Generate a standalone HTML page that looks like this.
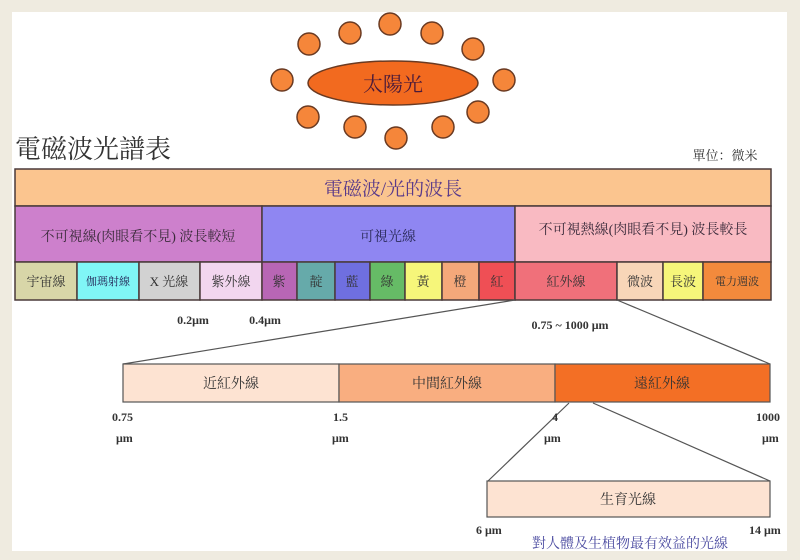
<!DOCTYPE html>
<html><head><meta charset="utf-8"><style>
html,body{margin:0;padding:0;background:#efebe0;}
svg{display:block;}
text{font-family:"Liberation Serif","Noto Serif CJK SC","Noto Sans CJK TC",serif;}
.c{font-family:"Liberation Serif","Noto Sans CJK TC",serif;}
</style></head><body>
<svg width="800" height="560" viewBox="0 0 800 560" xmlns="http://www.w3.org/2000/svg">
<rect x="0" y="0" width="800" height="560" fill="#efebe0"/>
<rect x="12" y="12" width="775" height="539" fill="#ffffff"/>
<!-- sun -->
<g fill="#f5863a" stroke="#6a3a22" stroke-width="1.5">
<circle cx="282" cy="80" r="11"/><circle cx="309" cy="44" r="11"/><circle cx="350" cy="33" r="11"/>
<circle cx="390" cy="24" r="11"/><circle cx="432" cy="33" r="11"/><circle cx="473" cy="49" r="11"/>
<circle cx="504" cy="80" r="11"/><circle cx="478" cy="112" r="11"/><circle cx="443" cy="127" r="11"/>
<circle cx="396" cy="138" r="11"/><circle cx="355" cy="127" r="11"/><circle cx="308" cy="117" r="11"/>
<ellipse cx="393" cy="83" rx="85" ry="22" fill="#f26a1f"/>
</g>
<text x="393" y="91" font-size="20" text-anchor="middle" fill="#4a1a3a">太陽光</text>
<text x="15" y="158" font-size="26" fill="#333">電磁波光譜表</text>
<text x="725" y="160" font-size="13" text-anchor="middle" fill="#333">單位：微米</text>
<!-- top bar -->
<g stroke="#4a3a3a" stroke-width="1.5">
<rect x="15" y="169" width="756" height="37" fill="#fbc58f"/>
<rect x="15" y="206" width="247" height="56" fill="#cd80cc"/>
<rect x="262" y="206" width="253" height="56" fill="#8f86f2"/>
<rect x="515" y="206" width="256" height="56" fill="#f9bac2"/>
<rect x="15" y="262" width="62" height="38" fill="#d8d6a8"/>
<rect x="77" y="262" width="62" height="38" fill="#80f6f6"/>
<rect x="139" y="262" width="61" height="38" fill="#d2d2d2"/>
<rect x="200" y="262" width="62" height="38" fill="#f2d6ef"/>
<rect x="262" y="262" width="35" height="38" fill="#b866b5"/>
<rect x="297" y="262" width="38" height="38" fill="#66aaaa"/>
<rect x="335" y="262" width="35" height="38" fill="#6f6fe0"/>
<rect x="370" y="262" width="35" height="38" fill="#66bb66"/>
<rect x="405" y="262" width="37" height="38" fill="#f6f67a"/>
<rect x="442" y="262" width="37" height="38" fill="#f4a87a"/>
<rect x="479" y="262" width="36" height="38" fill="#ef4f55"/>
<rect x="515" y="262" width="102" height="38" fill="#f0707a"/>
<rect x="617" y="262" width="46" height="38" fill="#f8d6b8"/>
<rect x="663" y="262" width="40" height="38" fill="#f6f67a"/>
<rect x="703" y="262" width="68" height="38" fill="#f38a3c"/>
</g>
<text x="393" y="195" font-size="19" text-anchor="middle" fill="#5a3a8a">電磁波/光的波長</text>
<g font-size="14" text-anchor="middle" fill="#3a2a3a">
<text x="138" y="241">不可視線(肉眼看不見) 波長較短</text>
<text x="388" y="241" fill="#2a2a5a">可視光線</text>
<text x="643" y="234">不可視熱線(肉眼看不見) 波長較長</text>
</g>
<g font-size="13" text-anchor="middle" fill="#333">
<text x="46" y="286">宇宙線</text>
<text x="108" y="285" font-size="11" fill="#225">伽瑪射線</text>
<text x="169" y="286">X 光線</text>
<text x="231" y="286">紫外線</text>
<text x="279" y="286">紫</text>
<text x="316" y="286">靛</text>
<text x="352" y="286">藍</text>
<text x="387" y="286">綠</text>
<text x="423" y="286">黃</text>
<text x="460" y="286">橙</text>
<text x="497" y="286">紅</text>
<text x="566" y="286">紅外線</text>
<text x="640" y="286">微波</text>
<text x="683" y="286">長波</text>
<text x="737" y="285" font-size="11">電力週波</text>
</g>
<g font-size="12" font-weight="bold" fill="#333" text-anchor="middle">
<text x="193" y="324">0.2μm</text>
<text x="265" y="324">0.4μm</text>
<text x="570" y="329">0.75 ~ 1000 μm</text>
</g>
<!-- connectors -->
<g stroke="#555" stroke-width="1.2">
<line x1="515" y1="300" x2="123" y2="364"/>
<line x1="617" y1="300" x2="770" y2="364"/>
<line x1="569" y1="403" x2="488" y2="481"/>
<line x1="593" y1="403" x2="770" y2="481"/>
</g>
<g stroke="#555" stroke-width="1.2">
<rect x="123" y="364" width="216" height="38" fill="#fde3d2"/>
<rect x="339" y="364" width="216" height="38" fill="#f9ae80"/>
<rect x="555" y="364" width="215" height="38" fill="#f36f25"/>
<rect x="487" y="481" width="283" height="36" fill="#fde3d2"/>
</g>
<g font-size="14" text-anchor="middle" fill="#333">
<text x="231" y="388">近紅外線</text>
<text x="447" y="388">中間紅外線</text>
<text x="662" y="388">遠紅外線</text>
<text x="628" y="504">生育光線</text>
</g>
<g font-size="12" font-weight="bold" fill="#333">
<text x="112" y="421">0.75</text><text x="116" y="442">μm</text>
<text x="333" y="421">1.5</text><text x="332" y="442">μm</text>
<text x="552" y="421">4</text><text x="544" y="442">μm</text>
<text x="756" y="421">1000</text><text x="762" y="442">μm</text>
<text x="476" y="534">6 μm</text>
<text x="749" y="534">14 μm</text>
</g>
<text x="630" y="548" font-size="14" text-anchor="middle" fill="#4a4aa0">對人體及生植物最有效益的光線</text>
</svg>
</body></html>
